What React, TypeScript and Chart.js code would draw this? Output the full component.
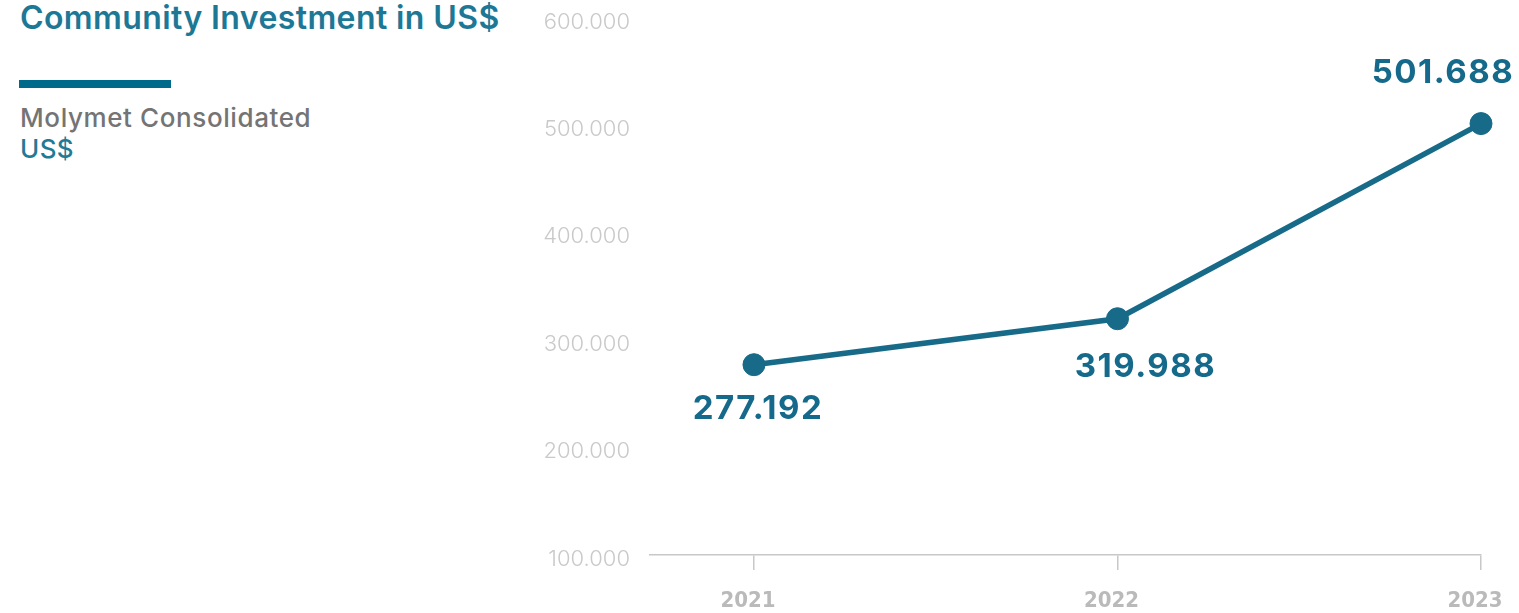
import React, { useEffect, useRef } from "react";
import { Chart, registerables } from "chart.js";

Chart.register(...registerables);

// ---- data ----
const categories = ["2021", "2022", "2023"];
const investment = [277192, 319988, 501688];
const yTickValues = [100000, 200000, 300000, 400000, 500000, 600000];

// ---- styles ----
const LINE_COLOR = "#176a88";
const LABEL_COLOR = "#15698a";
const TITLE_COLOR = "#1d7896";
const AXIS_GRAY = "#c8c8c8";
const TICK_GRAY = "#c9c9c9";
const XLABEL_GRAY = "#bababa";

const fmt = (v: number) => String(Math.round(v)).replace(/\B(?=(\d{3})+(?!\d))/g, ".");

// label placement relative to each point (baseline offsets)
const labelPlacement = [
  { dx: 4, dy: 54 },
  { dx: 28, dy: 58 },
  { dx: -38, dy: -41 },
];

const dataLabelsPlugin = {
  id: "dataLabelsPlugin",
  afterDatasetsDraw(chart: any) {
    const meta = chart.getDatasetMeta(0);
    const ctx = chart.ctx;
    ctx.save();
    ctx.font = "700 33px Inter, 'Open Sans', sans-serif";
    try {
      (ctx as any).letterSpacing = "1.5px";
    } catch (e) {}
    ctx.fillStyle = LABEL_COLOR;
    ctx.textAlign = "center";
    ctx.textBaseline = "alphabetic";
    meta.data.forEach((pt: any, i: number) => {
      const p = labelPlacement[i] || { dx: 0, dy: -30 };
      ctx.fillText(fmt(investment[i]), pt.x + p.dx, pt.y + p.dy);
    });
    ctx.restore();
  },
};

const xLabelsPlugin = {
  id: "xLabelsPlugin",
  afterDraw(chart: any) {
    const xs = chart.scales.x;
    const ctx = chart.ctx;
    ctx.save();
    ctx.font = "bold 22px 'Liberation Sans Narrow', 'DejaVu Sans Condensed', sans-serif";
    ctx.fillStyle = XLABEL_GRAY;
    ctx.textAlign = "center";
    ctx.textBaseline = "alphabetic";
    categories.forEach((c) => {
      const x = xs.getPixelForValue(Number(c));
      ctx.fillText(c, x - 6, xs.top + 52);
    });
    ctx.restore();
  },
};

function LineChart() {
  const ref = useRef<HTMLCanvasElement | null>(null);
  useEffect(() => {
    if (!ref.current) return;
    const chart = new Chart(ref.current, {
      type: "line",
      data: {
        datasets: [
          {
            label: "Molymet Consolidated",
            data: categories.map((c, i) => ({ x: Number(c), y: investment[i] })),
            borderColor: LINE_COLOR,
            backgroundColor: LINE_COLOR,
            borderWidth: 5.5,
            pointRadius: 11,
            pointBorderWidth: 1,
            pointBackgroundColor: LINE_COLOR,
            pointBorderColor: LINE_COLOR,
            tension: 0,
            clip: false as any,
          },
        ],
      },
      options: {
        responsive: false,
        animation: false,
        devicePixelRatio: 1,
        layout: { padding: { top: 40, right: 38, left: 0, bottom: 0 } },
        plugins: {
          legend: { display: false },
          tooltip: { enabled: false },
          title: { display: false },
        },
        scales: {
          x: {
            type: "linear",
            min: 2020.714,
            max: 2023,
            afterBuildTicks: (scale: any) => {
              scale.ticks = categories.map((c) => ({ value: Number(c) }));
            },
            afterFit: (scale: any) => {
              scale.height = 58;
            },
            grid: {
              display: true,
              drawOnChartArea: false,
              drawTicks: true,
              tickLength: 15,
              color: AXIS_GRAY,
              lineWidth: 1.5,
            },
            border: { display: true, color: AXIS_GRAY, width: 1.5 },
            ticks: { display: false },
          },
          y: {
            type: "linear",
            min: 100000,
            max: 600000,
            afterBuildTicks: (scale: any) => {
              scale.ticks = yTickValues.map((v) => ({ value: v }));
            },
            afterFit: (scale: any) => {
              scale.width = 130;
            },
            grid: { display: false },
            border: { display: false },
            ticks: {
              padding: 12,
              labelOffset: 4,
              color: TICK_GRAY,
              font: { family: "Inter, 'Open Sans', sans-serif", size: 22, weight: "300" },
              callback: (v: any) => fmt(Number(v)),
            },
          },
        },
      },
      plugins: [dataLabelsPlugin, xLabelsPlugin],
    });
    return () => chart.destroy();
  }, []);
  return (
    <canvas
      ref={ref}
      width={999}
      height={635}
      style={{ position: "absolute", left: 520, top: -22, width: 999, height: 635 }}
    />
  );
}

export default function App() {
  return (
    <div
      style={{
        position: "fixed",
        left: 0,
        top: 0,
        width: 1519,
        height: 613,
        overflow: "hidden",
        background: "#ffffff",
        fontFamily: "Inter, 'Open Sans', sans-serif",
      }}
    >
      <div
        style={{
          position: "absolute",
          left: 20,
          top: 2,
          fontSize: 32,
          lineHeight: "32px",
          fontWeight: 600,
          letterSpacing: "0.4px",
          color: TITLE_COLOR,
          whiteSpace: "nowrap",
        }}
      >
        Community Investment in US$
      </div>
      <div
        style={{
          position: "absolute",
          left: 19,
          top: 80,
          width: 152,
          height: 8,
          background: "#006a8a",
        }}
      />
      <div
        style={{
          position: "absolute",
          left: 20,
          top: 105,
          fontSize: 26,
          lineHeight: "26px",
          fontWeight: 500,
          letterSpacing: "0.6px",
          color: "#747474",
          whiteSpace: "nowrap",
        }}
      >
        Molymet Consolidated
      </div>
      <div
        style={{
          position: "absolute",
          left: 20,
          top: 136,
          fontSize: 26,
          lineHeight: "26px",
          fontWeight: 500,
          letterSpacing: "0.4px",
          color: "#1f7b97",
          whiteSpace: "nowrap",
        }}
      >
        US$
      </div>
      <LineChart />
    </div>
  );
}
